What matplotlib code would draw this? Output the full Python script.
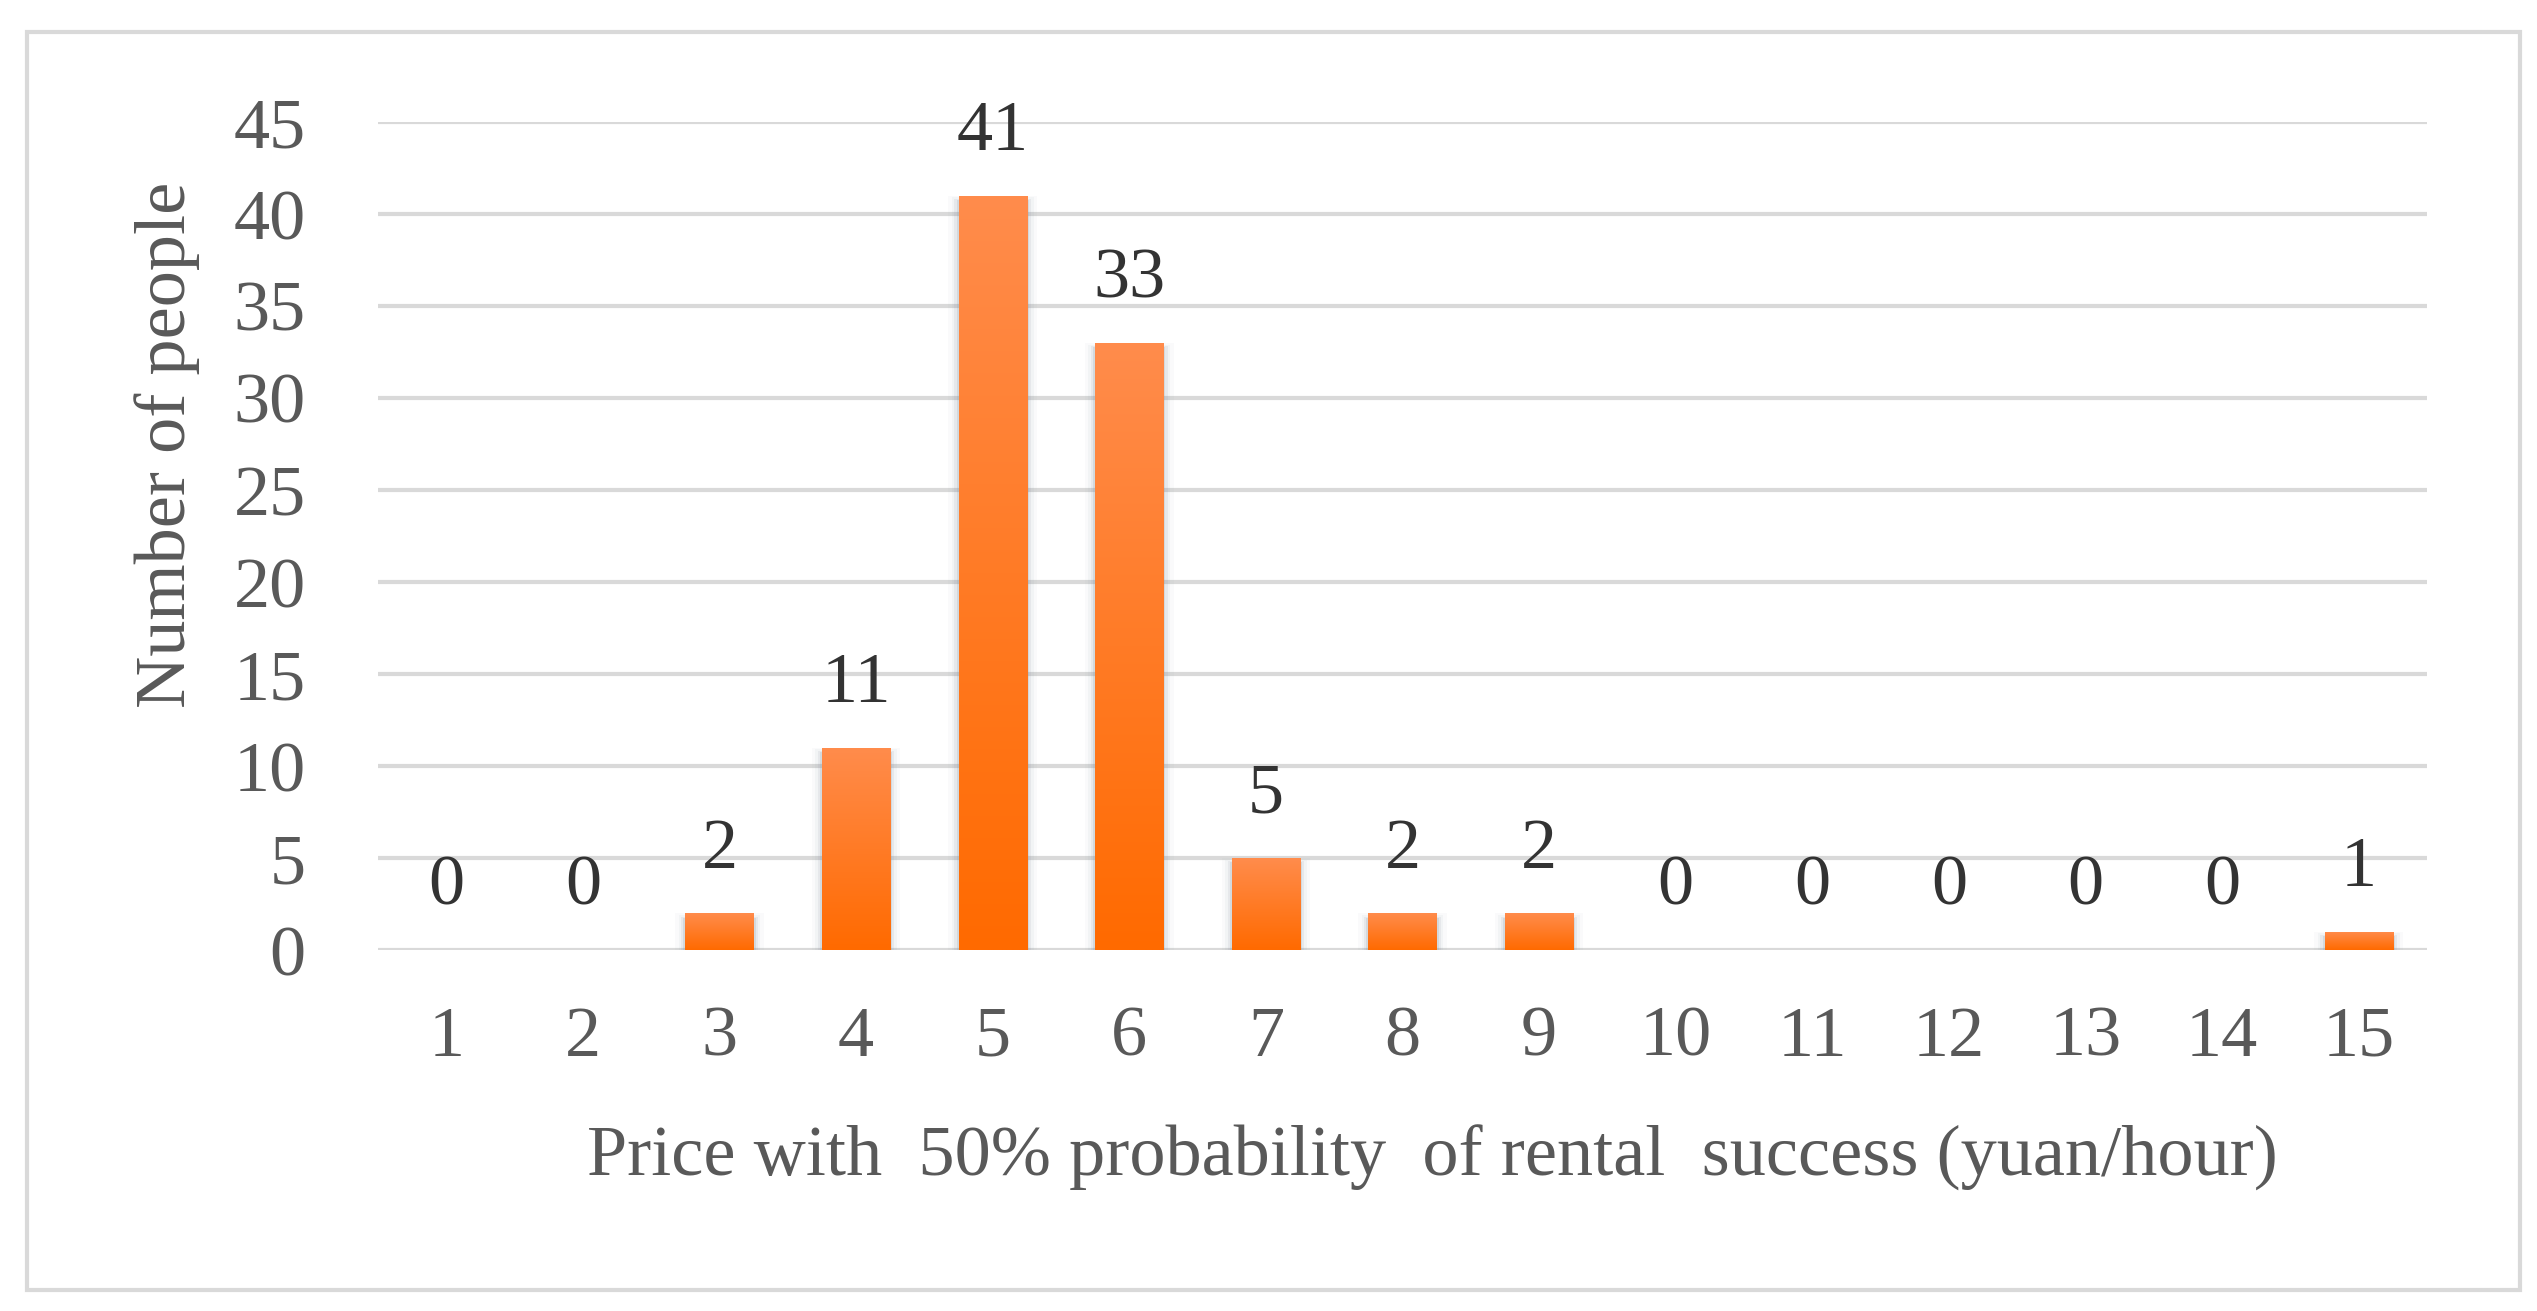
import numpy as np
import matplotlib
matplotlib.use("Agg")
import matplotlib.pyplot as plt
from matplotlib.patches import Rectangle
from matplotlib.colors import LinearSegmentedColormap

# datos
prices = ['1', '2', '3', '4', '5', '6', '7', '8', '9', '10', '11', '12', '13', '14', '15']
people = [0, 0, 2, 11, 41, 33, 5, 2, 2, 0, 0, 0, 0, 0, 1]
yticks = [0, 5, 10, 15, 20, 25, 30, 35, 40, 45]

plt.rcParams['font.family'] = ['Liberation Serif', 'DejaVu Serif']
tick_color = '#595959'
lab_color = '#333333'
fs = 52

W, H = 2537, 1311
fig = plt.figure(figsize=(W / 100, H / 100), dpi=100)
fig.patch.set_facecolor('white')

# marco exterior
fig.patches.append(Rectangle((27 / W, 1 - 1290 / H), (2520 - 27) / W, (1290 - 32) / H,
                             transform=fig.transFigure, fill=False,
                             edgecolor='#D9D9D9', linewidth=3))

ax = fig.add_axes([378 / W, 1 - 950 / H, (2427 - 378) / W, (950 - 122) / H])
x = np.arange(len(prices))

for y in yticks:
    ax.axhline(y, color='#D9D9D9', linewidth=3, zorder=0)

cmap = LinearSegmentedColormap.from_list('naranja', ['#FF6A00', '#FF8C4C'])
grad = np.linspace(0, 1, 256).reshape(-1, 1)
bw = 0.5
for xi, v in zip(x, people):
    if v == 0:
        continue
    # sombra suave a los lados
    for k, a in zip([0.03, 0.06, 0.10, 0.15], [0.16, 0.10, 0.06, 0.035]):
        ax.add_patch(Rectangle((xi - bw / 2 - k / 2, 0), bw + k, v - 0.3 + k * 2,
                               facecolor='#7a8a99', edgecolor='none', alpha=a, zorder=1))
    bar = Rectangle((xi - bw / 2, 0), bw, v, facecolor='none', edgecolor='none', zorder=2)
    ax.add_patch(bar)
    im = ax.imshow(grad, cmap=cmap, aspect='auto', origin='lower',
                   extent=[xi - bw / 2, xi + bw / 2, 0, v], zorder=2)
    im.set_clip_path(bar)

ax.set_xlim(-0.5, len(prices) - 0.5)
ax.set_ylim(0, 45)

for xi, v in zip(x, people):
    ax.annotate(str(v), (xi, v), xytext=(0, 22), textcoords='offset points',
                ha='center', va='bottom', fontsize=fs, color=lab_color)

ax.set_xticks(x)
ax.set_xticklabels(prices)
ax.set_yticks(yticks)
ax.tick_params(axis='both', length=0, labelsize=fs, colors=tick_color)
ax.tick_params(axis='x', pad=40)
ax.tick_params(axis='y', pad=52)
for s in ax.spines.values():
    s.set_visible(False)

fig.text(1432 / W, 1 - 1158 / H, 'Price with  50% probability  of rental  success (yuan/hour)',
         ha='center', va='center', fontsize=fs, color=tick_color)
fig.text(167 / W, 1 - 445 / H, 'Number of people', ha='center', va='center',
         rotation=90, fontsize=fs, color=tick_color)

fig.savefig('out.png', dpi=100, facecolor='white')
